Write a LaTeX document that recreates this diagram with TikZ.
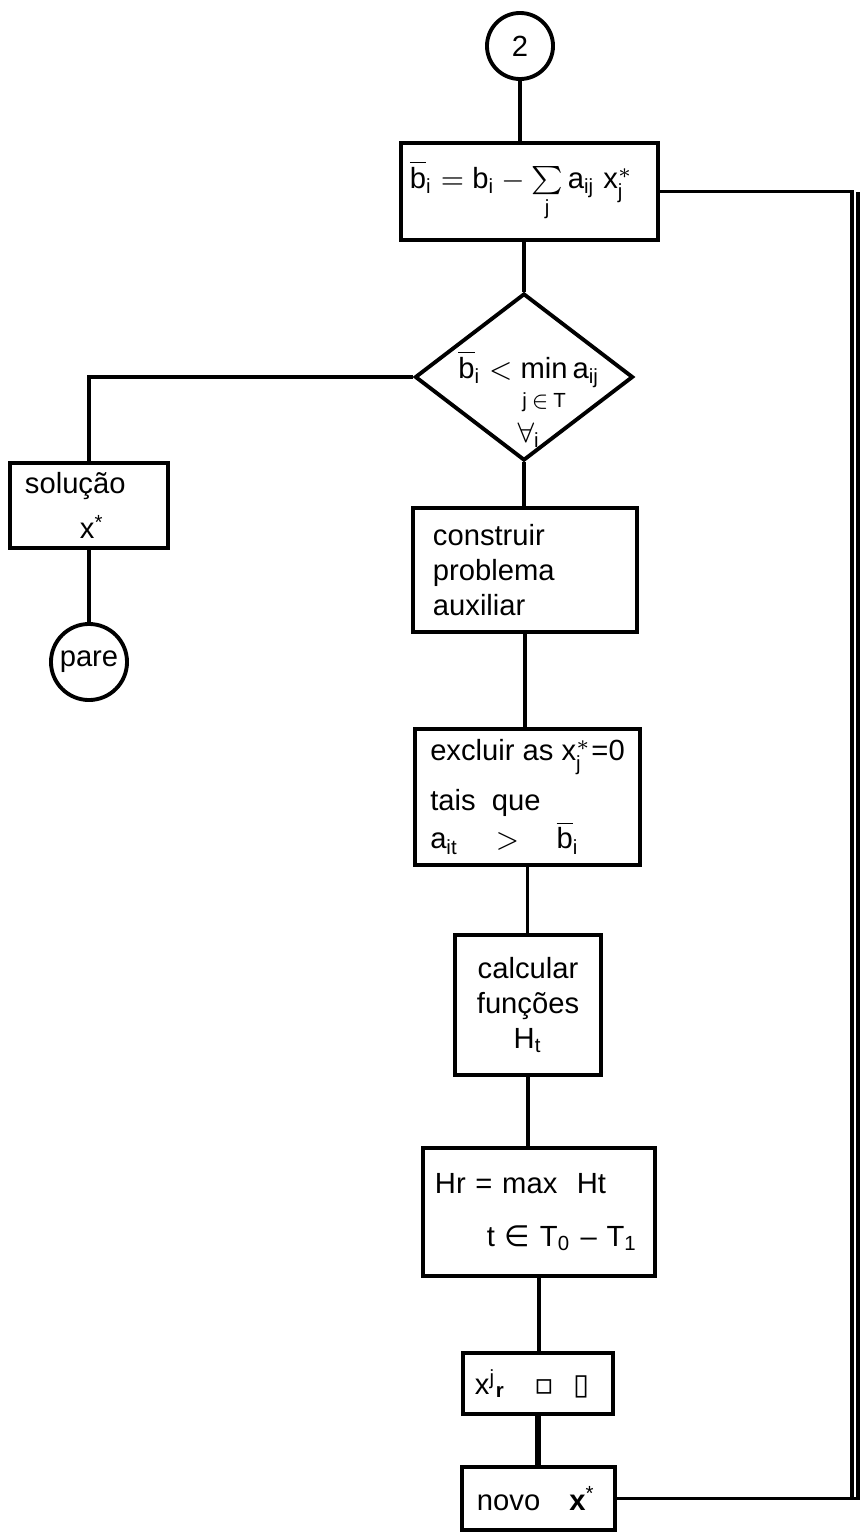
\documentclass[tikz,border=0pt]{standalone}
\usepackage{amsmath}
\usepackage{fontspec}
\setmainfont{Liberation Sans}
\newfontfamily\symfont{DejaVu Sans}
\usetikzlibrary{positioning,calc,shapes.geometric}
\newcommand{\tx}[1]{\text{#1}}

\begin{document}
\begin{tikzpicture}[
    x=0.01cm, y=-0.01cm,
    font=\fontsize{8.3}{10}\selectfont,
    blk/.style={rectangle, draw, line width=1.1pt, inner ysep=0pt, align=left},
    term/.style={circle, draw, line width=1.1pt, inner sep=0pt},
    cond/.style={diamond, draw, line width=1.1pt, inner sep=0pt},
    link/.style={line width=1pt},
    heavy/.style={line width=1.7pt}
]
\useasboundingbox (0,0) rectangle (865,1533);

\node[term, minimum size=0.66cm] (start) at (520,46) {2};
\node[blk, minimum height=0.97cm, inner xsep=0.09cm, text width=2.39cm] (upd) at (529.5,191.5)
    {$\overline{\tx b}_{\tx i} = \tx b_{\tx i} - \sum\limits_{\tx j} \tx a_{\tx{ij}}\; \tx x^{*}_{\tx j}$};
\node[cond, minimum width=2.18cm, minimum height=1.67cm,
    label={[align=center, xshift=0.05cm, yshift=-0.22cm]center:{$\overline{\tx b}_{\tx i} < \mathop{\tx{min}}\limits_{\rule{0pt}{7pt}\tx j\,\in\,\tx T} \tx a_{\tx{ij}}$\\[1pt]$\forall_{\tx i}$}}] (test) at (524,377) {};
\node[blk, minimum height=0.85cm, inner xsep=0.15cm, text width=1.28cm] (sol) at (89,505.5)
    {solução\\[3pt]\hspace*{0.55cm}x\textsuperscript{*}};
\node[term, minimum size=0.76cm] (stop) at (89,662) {pare};
\node[blk, minimum height=1.24cm, inner xsep=0.2cm, text width=1.84cm] (aux) at (525,570)
    {construir\\problema\\auxiliar};
\node[blk, minimum width=2.25cm, minimum height=1.36cm] (excl) at (527.5,797)
    {excluir as $\tx x^{*}_{\tx j}$=0\\[3pt]tais\ \ que\\[1pt]$\tx a_{\tx{it}}\quad > \quad\overline{\tx b}_{\tx i}$};
\node[blk, minimum height=1.40cm, inner xsep=0.15cm, text width=1.16cm, align=center] (calc) at (528,1005)
    {calcular\\funções\\H\textsubscript{t}};
\node[blk, minimum height=1.28cm, inner xsep=0.12cm, text width=2.08cm] (hmax) at (539,1212)
    {Hr = max\ \ Ht\\[5pt]\hspace*{0.52cm}t {\symfont ∈} T\textsubscript{0} -- T\textsubscript{1}};
\node[blk, minimum height=0.61cm, inner xsep=0.12cm, text width=1.26cm] (setx) at (538,1383.5)
    {x\textsuperscript{j}\textsubscript{\textbf{r}}\ \ \ {\symfont ▫}\ \ {\symfont ▯}};
\node[blk, minimum height=0.63cm, inner xsep=0.15cm, text width=1.23cm] (new) at (538.5,1498.5)
    {novo\ \ \ \textbf{x}\textsuperscript{*}};

\coordinate (outer) at (858,0);
\coordinate (inner) at (852,0);

\draw[link] (start) -- (start |- upd.north);
\draw[link] (test.north) -- (test.north |- upd.south);
\draw[link] (test.west) -| (sol.north);
\draw[link] (sol) -- (stop);
\draw[link] (test.south) -- (test.south |- aux.north);
\draw[link] (aux.south) -- (aux.south |- excl.north);
\draw[link] (excl.south) -- (excl.south |- calc.north);
\draw[link] (calc.south) -- (calc.south |- hmax.north);
\draw[link] (hmax.south) -- (hmax.south |- setx.north);
\draw[heavy] (setx.south) -- (setx.south |- new.north);
\draw[link] (new.east) -- (new.east -| outer) -- (outer |- upd.east);
\draw[link] (upd.east) -- (upd.east -| inner) -- (inner |- new.east);
\end{tikzpicture}
\end{document}
